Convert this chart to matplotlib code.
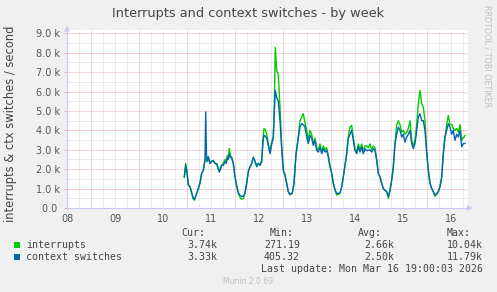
import matplotlib
matplotlib.use('Agg')
import matplotlib.pyplot as plt
from matplotlib.patches import Polygon, Rectangle

# hours after the "08" label position (Mar 8, 12:00)
hours = [58.65, 59.35, 60, 60.65, 61.5, 62.35, 63.15, 63.75, 64.85, 65.75, 66.5, 67.35, 68.15, 69, 69.35,
         69.75, 70.15, 70.65, 71.5, 72.35, 73.15, 74, 74.85, 75.5, 76.15, 76.75, 77.35, 78.15, 79, 79.65,
         80.15, 80.65, 81.15, 81.75, 82.35, 83.15, 84, 84.85, 85.65, 86.5, 87.35, 88.15, 89, 89.85, 90.65,
         91.5, 92.35, 93.15, 94, 94.85, 95.65, 96.5, 97.35, 98, 98.5, 99.15, 99.85, 100.65, 101.5, 102.35,
         103.15, 103.65, 104.15, 104.85, 105.65, 106.5, 107.35, 108.15, 109, 109.85, 110.65, 111.5, 112.65,
         113.5, 114.5, 115.65, 116.5, 117.35, 118.15, 119, 119.85, 120.65, 121.5, 122.35, 123.15, 124,
         124.85, 125.65, 126.5, 127.35, 128.15, 129, 129.85, 130.65, 131.5, 132.35, 133.15, 134, 134.85,
         135.65, 136.5, 137.35, 138.15, 139, 139.85, 140.65, 141.5, 142.35, 143.15, 144, 144.85, 145.65,
         146.5, 147.35, 148.15, 149, 149.85, 150.65, 151.5, 152.35, 153.15, 154, 154.85, 155.65, 156.5,
         157.35, 158.15, 159, 159.85, 160.65, 161.5, 162.35, 163.15, 164, 164.85, 165.65, 166.5, 167.35,
         168.15, 169, 169.85, 170.65, 171.5, 172.35, 173.15, 174, 174.85, 175.65, 176.5, 177.35, 178.15,
         179, 179.85, 180.65, 181.5, 182.35, 183.15, 184, 184.85, 185.65, 186.5, 187.35, 188.15, 189,
         189.85, 190.65, 191.5, 192.35, 193.15, 194, 194.85, 195.65, 196.5, 197.35, 198.15, 199]

interrupts = [1.6, 2.3, 1.8, 1.2, 1.1, 0.75, 0.45, 0.4, 0.75, 1.0, 1.28, 1.8, 1.95, 2.4, 2.6,
              2.5, 2.4, 2.6, 2.3, 2.4, 2.45, 2.3, 2.3, 2.1, 1.9, 2.1, 2.2, 2.3, 2.5, 2.4,
              2.7, 2.6, 3.06, 2.7, 2.6, 2.3, 1.6, 1.1, 0.75, 0.55, 0.45, 0.5, 0.75, 1.27, 1.87,
              2.12, 2.3, 2.63, 2.4, 2.12, 2.3, 2.2, 2.46, 3.6, 4.09, 4.05, 3.8, 3.3, 2.85, 3.4,
              3.7, 5.2, 8.28, 7.08, 6.9, 5.2, 3.15, 1.95, 1.7, 1.27, 0.84, 0.67, 0.75,
              1.27, 2.8, 3.7, 4.5, 4.69, 4.86, 4.4, 4.0, 3.5, 4.0, 3.8, 3.3, 3.6,
              3.1, 3.0, 3.3, 2.9, 3.2, 3.0, 3.1, 2.7, 2.15, 1.8, 1.27, 0.92, 0.67,
              0.7, 0.75, 1.1, 1.6, 2.2, 2.8, 3.66, 4.17, 4.26, 3.6, 3.0, 2.9, 3.3,
              3.0, 3.3, 2.9, 3.2, 3.2, 3.1, 3.3, 3.0, 3.2, 3.1, 2.5, 1.8, 1.6,
              1.27, 1.0, 0.92, 0.84, 0.5, 0.92, 1.44, 2.12, 3.32, 4.3, 4.5, 4.3, 3.9,
              4.0, 3.8, 3.9, 4.1, 4.5, 3.5, 3.2, 3.5, 4.3, 5.37, 6.06, 5.37, 5.2,
              4.5, 2.9, 1.95, 1.27, 1.0, 0.84, 0.6, 0.7, 0.84, 1.1, 1.6, 2.8, 3.66,
              4.3, 4.77, 4.3, 4.3, 4.1, 4.0, 4.1, 3.9, 4.3, 3.5, 3.6, 3.74]

ctx_switches = [1.6, 2.2, 1.9, 1.2, 1.1, 0.8, 0.5, 0.45, 0.75, 1.05, 1.3, 1.8, 1.95, 2.5, 4.95,
                2.7, 2.4, 2.65, 2.3, 2.4, 2.45, 2.3, 2.25, 2.05, 1.85, 2.0, 2.2, 2.2, 2.4, 2.3,
                2.6, 2.5, 2.8, 2.6, 2.6, 2.3, 1.6, 1.15, 0.8, 0.65, 0.6, 0.6, 0.8, 1.3, 1.87,
                2.12, 2.3, 2.6, 2.4, 2.15, 2.3, 2.2, 2.4, 3.4, 3.75, 3.7, 3.6, 3.23, 2.8, 3.3,
                3.6, 5.0, 6.06, 5.7, 5.5, 4.5, 3.1, 1.95, 1.7, 1.27, 0.84, 0.7, 0.78,
                1.27, 2.75, 3.6, 4.17, 4.34, 4.3, 4.17, 3.66, 3.32, 3.75, 3.6, 3.23, 3.49,
                2.97, 2.88, 3.15, 2.8, 3.06, 2.88, 2.97, 2.63, 2.12, 1.78, 1.27, 0.95, 0.75,
                0.75, 0.78, 1.1, 1.6, 2.2, 2.8, 3.6, 3.8, 4.0, 3.49, 2.97, 2.8, 3.15,
                2.88, 3.15, 2.8, 3.06, 2.95, 2.97, 3.0, 2.88, 3.06, 2.97, 2.46, 1.78, 1.6,
                1.27, 1.0, 0.92, 0.84, 0.58, 0.92, 1.44, 2.12, 3.32, 3.8, 4.17, 4.0, 3.66,
                3.8, 3.4, 3.66, 3.8, 4.0, 3.32, 3.06, 3.32, 4.0, 4.69, 4.86, 4.5, 4.5,
                4.0, 2.8, 1.95, 1.27, 1.0, 0.84, 0.67, 0.75, 0.84, 1.1, 1.6, 2.8, 3.66,
                4.0, 4.34, 4.17, 3.8, 4.0, 3.49, 3.8, 3.66, 4.0, 3.15, 3.32, 3.33]

x_tick_labels = ['08', '09', '10', '11', '12', '13', '14', '15', '16']
y_ticks = [0, 1, 2, 3, 4, 5, 6, 7, 8, 9]
y_tick_labels = ['0.0 ', '1.0 k', '2.0 k', '3.0 k', '4.0 k', '5.0 k', '6.0 k', '7.0 k', '8.0 k', '9.0 k']

series_names = ['interrupts', 'context switches']
series_colors = ['#00CC00', '#0066B3']
cur_vals = ['3.74k', '3.33k']
min_vals = ['271.19', '405.32']
avg_vals = ['2.66k', '2.50k']
max_vals = ['10.04k', '11.79k']

W, H = 497, 292
fig = plt.figure(figsize=(W / 100, H / 100), dpi=100, facecolor='#F0F0F0')

L, R, T, B = 67, 468, 29.5, 208
ax = fig.add_axes([L / W, (H - B) / H, (R - L) / W, (B - T) / H])
ax.set_facecolor('white')

x_start = 8.0
x_end = 8 + (R - L) / 48.0
ax.set_xlim(x_start, x_end)
ax.set_ylim(0, 9.2)

# grid
dot = (0, (1, 1))
minor_col = '#D8D8D8'
major_col = '#E8A8A8'
d = 8.0
while d <= x_end + 1e-9:
    frac = round((d - 8.0) * 4) % 4
    if frac == 2:
        ax.axvline(d, color=major_col, lw=0.72, ls=dot, zorder=1)
    elif d > x_start + 0.01:
        ax.axvline(d, color=minor_col, lw=0.72, ls=dot, zorder=0.5)
    d += 0.25
for k in range(0, 19):
    v = k * 0.5
    if v == 0:
        continue
    if k % 2 == 0:
        ax.axhline(v, color=major_col, lw=0.72, ls=dot, zorder=1)
    else:
        ax.axhline(v, color=minor_col, lw=0.72, ls=dot, zorder=0.5)

xs = [8 + h / 24.0 for h in hours]
ax.plot(xs, interrupts, color=series_colors[0], lw=1.0, zorder=3)
ax.plot(xs, ctx_switches, color=series_colors[1], lw=1.0, zorder=4)

for s in ['top', 'right']:
    ax.spines[s].set_visible(False)
for s in ['left', 'bottom']:
    ax.spines[s].set_color('#C8C8F0')
    ax.spines[s].set_linewidth(0.8)

ax.set_xticks(list(range(8, 17)))
ax.set_xticklabels(x_tick_labels)
ax.set_yticks(y_ticks)
ax.set_yticklabels(y_tick_labels)
ax.tick_params(axis='both', colors='#E8A8A8', labelcolor='#555555', labelsize=7, length=2, width=0.7)
ax.tick_params(axis='x', length=0, pad=4)
ax.tick_params(axis='y', pad=3)

# axis arrows
def px(x, y):
    return (x / W, 1 - y / H)
fig.patches.append(Polygon([px(472.5, 208), px(467, 205), px(467, 211)], closed=True,
                           transform=fig.transFigure, facecolor='#C8C8F0', edgecolor='none'))
fig.patches.append(Polygon([px(67, 26), px(64, 31.5), px(70, 31.5)], closed=True,
                           transform=fig.transFigure, facecolor='#C8C8F0', edgecolor='none'))

# title and side texts
fig.text(248 / W, 1 - 13.5 / H, 'Interrupts and context switches - by week', ha='center', va='center',
         fontsize=9.3, color='#444444')
fig.text(11 / W, 1 - 123.5 / H, 'interrupts & ctx switches / second', rotation=90, ha='center',
         va='center', fontsize=8.3, color='#444444')
fig.text(487 / W, 1 - 5 / H, 'RRDTOOL / TOBI OETIKER', rotation=270, ha='center', va='top',
         fontsize=5.8, color='#C0C0C0')

# legend table
mono = 'DejaVu Sans Mono'
fs = 7.1
fig.text(181.5 / W, 1 - 232.5 / H, 'Cur:', fontsize=fs, family=mono, color='#444444', va='center')
fig.text(269.5 / W, 1 - 232.5 / H, 'Min:', fontsize=fs, family=mono, color='#444444', va='center')
fig.text(357.5 / W, 1 - 232.5 / H, 'Avg:', fontsize=fs, family=mono, color='#444444', va='center')
fig.text(446.5 / W, 1 - 232.5 / H, 'Max:', fontsize=fs, family=mono, color='#444444', va='center')
rows_y = [244.5, 256.5]
for i in range(2):
    y = rows_y[i]
    fig.patches.append(Rectangle(px(14, y + 3), 5.5 / W, 6 / H, transform=fig.transFigure,
                                 facecolor=series_colors[i], edgecolor='none'))
    fig.text(26.5 / W, 1 - y / H, series_names[i], fontsize=fs, family=mono, color='#444444', va='center')
    fig.text(217 / W, 1 - y / H, cur_vals[i], fontsize=fs, family=mono, color='#444444', va='center', ha='right')
    fig.text(300 / W, 1 - y / H, min_vals[i], fontsize=fs, family=mono, color='#444444', va='center', ha='right')
    fig.text(394 / W, 1 - y / H, avg_vals[i], fontsize=fs, family=mono, color='#444444', va='center', ha='right')
    fig.text(483 / W, 1 - y / H, max_vals[i], fontsize=fs, family=mono, color='#444444', va='center', ha='right')
fig.text(483 / W, 1 - 268.5 / H, 'Last update: Mon Mar 16 19:00:03 2026', fontsize=fs, family=mono,
         color='#444444', va='center', ha='right')
fig.text(248 / W, 1 - 281 / H, 'Munin 2.0.69', fontsize=5.5, color='#C0C0C0', va='center', ha='center')

fig.savefig('out.png', dpi=100, facecolor='#F0F0F0')
